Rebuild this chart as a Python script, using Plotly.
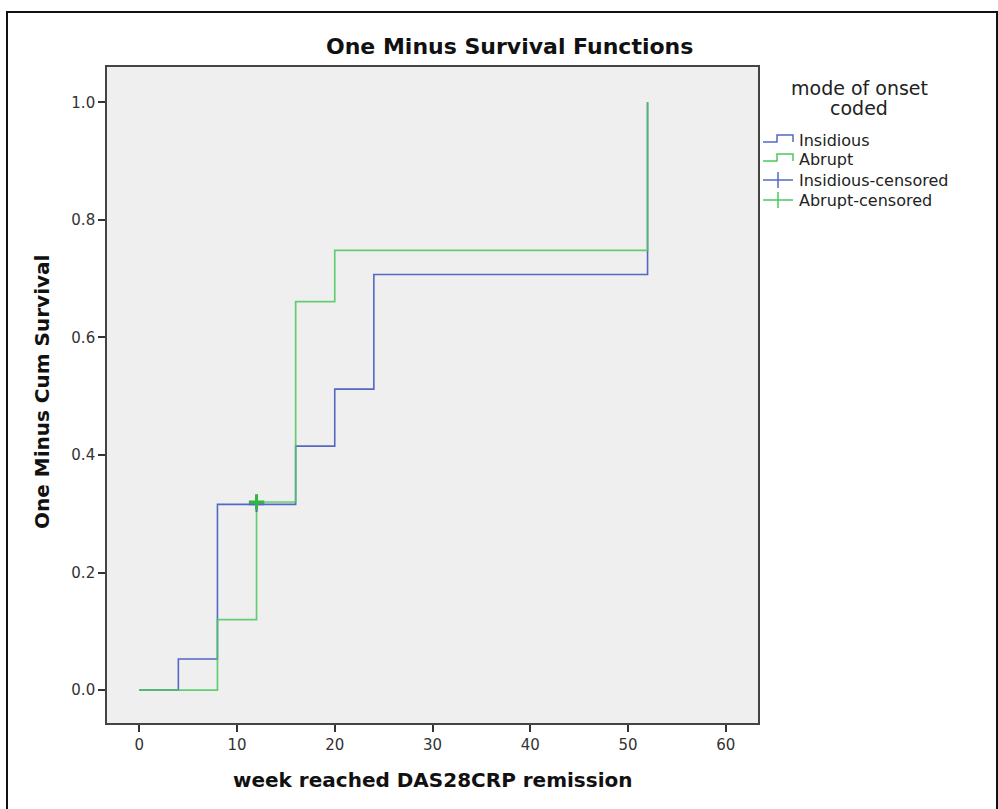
import plotly.graph_objects as go

# Kaplan-Meier style cumulative incidence (1 - S(t)) by mode of onset
insidious_weeks = [0, 4, 8, 16, 20, 24, 52]
insidious_values = [0.0, 0.053, 0.316, 0.415, 0.512, 0.707, 1.0]
abrupt_weeks = [0, 8, 12, 16, 20, 52]
abrupt_values = [0.0, 0.120, 0.320, 0.661, 0.748, 1.0]

insidious_censored_weeks = [12]
insidious_censored_values = [0.316]
abrupt_censored_weeks = [12]
abrupt_censored_values = [0.320]

x_ticks = [0, 10, 20, 30, 40, 50, 60]
y_ticks = [0.0, 0.2, 0.4, 0.6, 0.8, 1.0]

BLUE = "#5468c4"
GREEN = "#4cc85c"
FONT = "DejaVu Sans"

# plot-area geometry in page pixels, used to place paper-referenced decorations
W, H = 998, 809
L, R, T, B = 107, 758, 67, 723


def px(x):
    return (x - L) / (R - L)


def py(y):
    return (B - y) / (B - T)


fig = go.Figure()

fig.add_trace(go.Scatter(
    x=insidious_weeks, y=insidious_values, mode="lines", line_shape="hv",
    line=dict(color=BLUE, width=1.6), showlegend=False, hoverinfo="skip"))
fig.add_trace(go.Scatter(
    x=abrupt_weeks, y=abrupt_values, mode="lines", line_shape="hv",
    line=dict(color=GREEN, width=1.7), opacity=0.85, showlegend=False, hoverinfo="skip"))
fig.add_trace(go.Scatter(
    x=insidious_censored_weeks, y=insidious_censored_values, mode="markers",
    marker=dict(symbol="cross-thin", size=11, line=dict(color=BLUE, width=2)),
    showlegend=False, hoverinfo="skip"))
fig.add_trace(go.Scatter(
    x=abrupt_censored_weeks, y=abrupt_censored_values, mode="markers",
    marker=dict(symbol="cross-thin", size=11, line=dict(color="#2fb83f", width=3)),
    showlegend=False, hoverinfo="skip"))

shapes = []
# outer frame around the whole chart
shapes.append(dict(type="rect", xref="paper", yref="paper",
                   x0=px(7), x1=px(997), y0=py(830), y1=py(12),
                   line=dict(color="#111", width=2), layer="below"))

# hand-drawn legend icons
legend_rows = [("Insidious", BLUE, "step", 140),
               ("Abrupt", GREEN, "step", 159),
               ("Insidious-censored", BLUE, "cross", 180),
               ("Abrupt-censored", GREEN, "cross", 200)]
annotations = []
for label, color, kind, yy in legend_rows:
    if kind == "step":
        path = (f"M {px(763)},{py(yy + 2)} L {px(777)},{py(yy + 2)} "
                f"L {px(777)},{py(yy - 5)} L {px(793)},{py(yy - 5)} L {px(793)},{py(yy + 2)}")
        shapes.append(dict(type="path", xref="paper", yref="paper", path=path,
                           line=dict(color=color, width=1.5)))
    else:
        shapes.append(dict(type="line", xref="paper", yref="paper",
                           x0=px(763), x1=px(793), y0=py(yy), y1=py(yy),
                           line=dict(color=color, width=1.5)))
        shapes.append(dict(type="line", xref="paper", yref="paper",
                           x0=px(778), x1=px(778), y0=py(yy - 8), y1=py(yy + 8),
                           line=dict(color=color, width=1.5)))
    annotations.append(dict(text=label, xref="paper", yref="paper",
                            x=px(797), y=py(yy), xanchor="left", yanchor="middle",
                            showarrow=False, font=dict(family=FONT, size=16, color="#222")))

# legend title, two centred lines
for line_text, yy in (("mode of onset", 88), ("coded", 108)):
    annotations.append(dict(text=line_text, xref="paper", yref="paper",
                            x=px(859), y=py(yy), xanchor="center", yanchor="middle",
                            showarrow=False,
                            font=dict(family=FONT, size=19, color="#222")))
annotations.append(dict(text="<b>One Minus Survival Functions</b>", xref="paper", yref="paper",
                        x=px(509), y=py(47), xanchor="center", yanchor="middle",
                        showarrow=False, font=dict(family=FONT, size=22, color="#111")))
annotations.append(dict(text="<b>week reached DAS28CRP remission</b>", xref="paper", yref="paper",
                        x=px(433), y=py(780), xanchor="center", yanchor="middle",
                        showarrow=False, font=dict(family=FONT, size=20, color="#111")))
annotations.append(dict(text="<b>One Minus Cum Survival</b>", xref="paper", yref="paper",
                        x=px(42), y=py(392), xanchor="center", yanchor="middle",
                        textangle=-90, showarrow=False,
                        font=dict(family=FONT, size=20, color="#111")))

axis_common = dict(showgrid=False, zeroline=False, showline=True, linecolor="#444",
                   linewidth=1.6, mirror=True, ticks="outside", ticklen=7,
                   tickcolor="#333", tickwidth=1.5,
                   tickfont=dict(family=FONT, size=15, color="#333"))

fig.update_layout(
    width=W, height=H,
    margin=dict(l=L, r=W - R, t=T, b=H - B),
    paper_bgcolor="white", plot_bgcolor="#efefef",
    showlegend=False,
    xaxis=dict(range=[-3.3, 63.3], tickvals=x_ticks, ticktext=[str(v) for v in x_ticks],
               **axis_common),
    yaxis=dict(range=[-0.056, 1.06], tickvals=y_ticks,
               ticktext=[f"{v:.1f}" for v in y_ticks], **axis_common),
    shapes=shapes, annotations=annotations,
)

fig.write_html("out.html")
